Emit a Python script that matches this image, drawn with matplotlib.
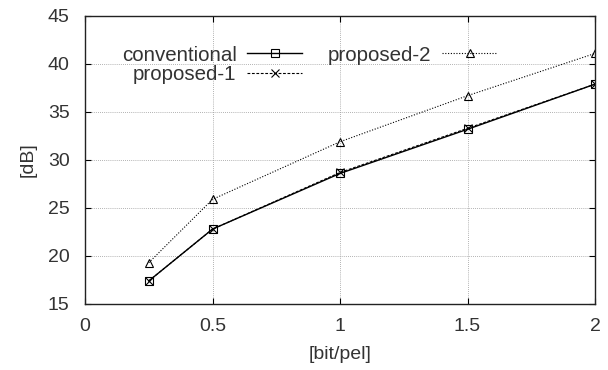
import matplotlib.pyplot as plt

plt.rcParams['font.family'] = ['Liberation Sans', 'DejaVu Sans']

rate = [0.25, 0.5, 1.0, 1.5, 2.0]
conventional = [17.4, 22.8, 28.6, 33.2, 37.9]
proposed_1 = [17.4, 22.8, 28.7, 33.3, 37.9]
proposed_2 = [19.3, 25.9, 31.9, 36.7, 41.1]

fig = plt.figure(figsize=(6.08, 3.70), dpi=100)
ax = fig.add_axes([85 / 608, 1 - 304 / 370, 510 / 608, 288 / 370])

ax.plot(rate, conventional, color='black', lw=1.0, marker='s', ms=6,
        mfc='none', mew=0.8, label='conventional')
ax.plot(rate, proposed_1, color='black', lw=0.8, ls=(0, (2.5, 1.5)), marker='x', ms=6,
        mew=0.8, label='proposed-1')
ax.plot(rate, proposed_2, color='black', lw=0.8, ls=(0, (1, 1.5)), marker='^', ms=6,
        mfc='none', mew=0.8, label='proposed-2')

ax.set_xlim(0, 2)
ax.set_ylim(15, 45)
ax.set_xticks([0, 0.5, 1, 1.5, 2])
ax.set_xticklabels(['0', '0.5', '1', '1.5', '2'])
ax.set_yticks(range(15, 50, 5))
ax.grid(True, color='#999999', ls=(0, (1, 1.5)), lw=0.6)
ax.tick_params(direction='in', top=True, right=True, length=4, width=0.8,
               labelsize=14, labelcolor='#333333')
ax.tick_params(axis='x', pad=10)
ax.tick_params(axis='y', pad=11)
for s in ax.spines.values():
    s.set_linewidth(1.0)
    s.set_color('#222222')

ax.set_xlabel('[bit/pel]', fontsize=14, color='#333333', labelpad=8)
ax.set_ylabel('[dB]', fontsize=14, color='#333333', labelpad=8)

ax.legend(ncol=2, loc='upper left', bbox_to_anchor=(0.072, 0.897), frameon=False,
          markerfirst=False, handlelength=2.7, fontsize=14.8, labelspacing=0.03,
          columnspacing=1.25, handletextpad=0.5, borderpad=0, borderaxespad=0,
          labelcolor='#333333')

fig.savefig('out.png', dpi=100)
